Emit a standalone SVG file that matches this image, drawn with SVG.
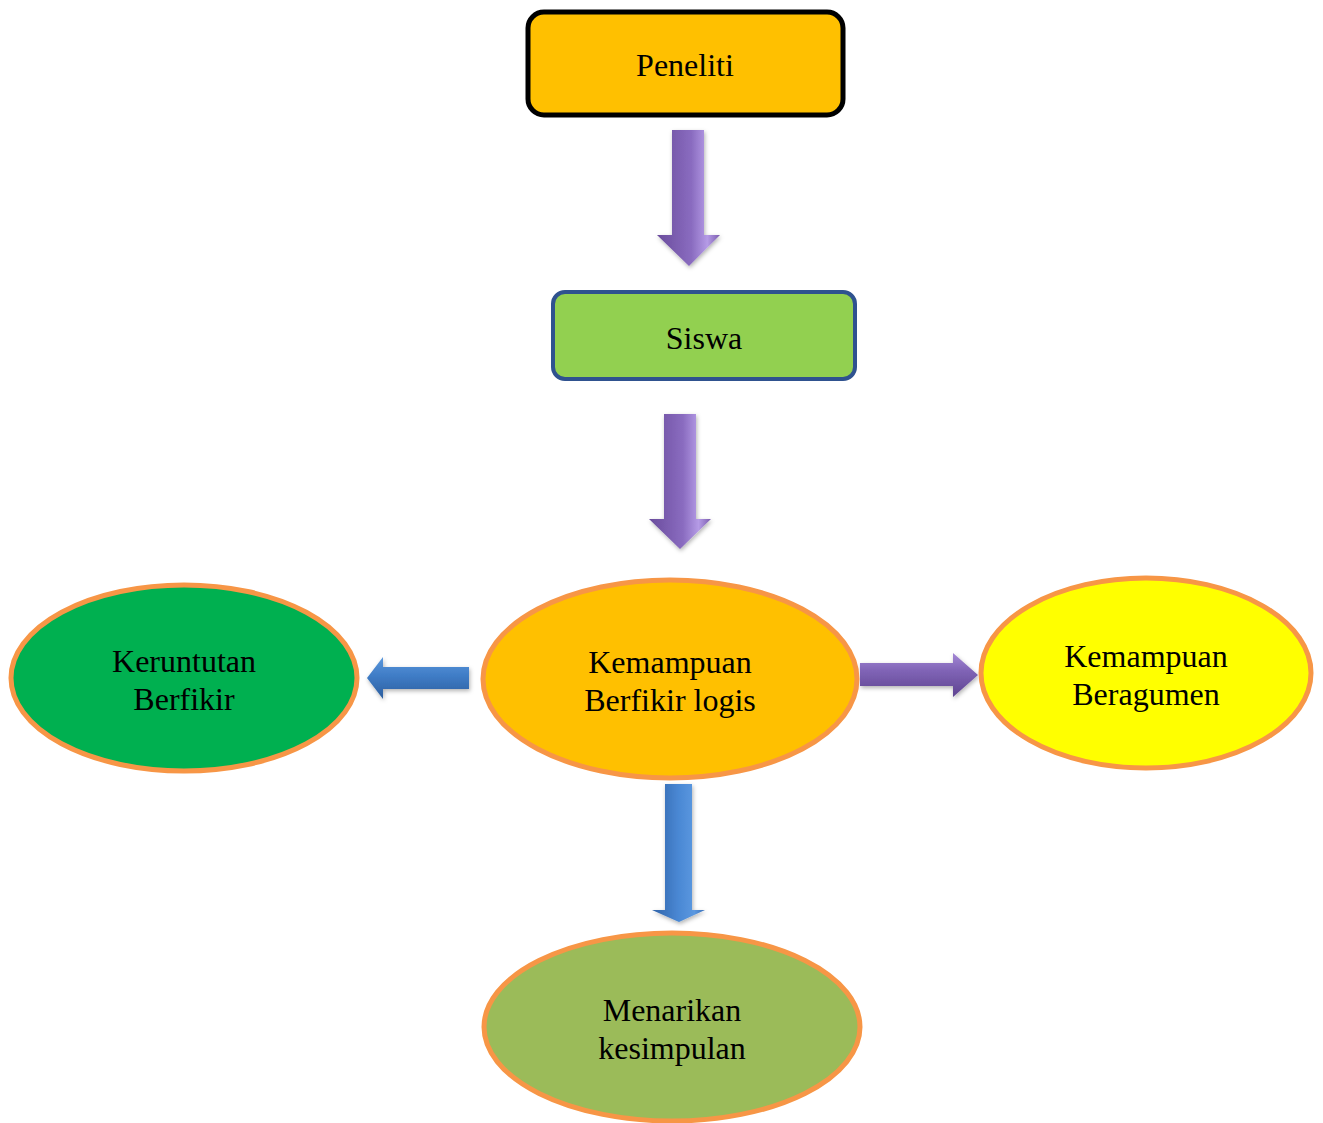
<svg xmlns="http://www.w3.org/2000/svg" width="1323" height="1123" viewBox="0 0 1323 1123">
<defs>
<linearGradient id="pv" x1="0" y1="0" x2="1" y2="0">
<stop offset="0" stop-color="#6a4c9c"/><stop offset="0.55" stop-color="#8a6cc0"/><stop offset="0.8" stop-color="#b59be6"/><stop offset="1" stop-color="#7b5cae"/>
</linearGradient>
<linearGradient id="ph" x1="0" y1="0" x2="0" y2="1">
<stop offset="0" stop-color="#a488d6"/><stop offset="0.4" stop-color="#8064b6"/><stop offset="1" stop-color="#5e4390"/>
</linearGradient>
<linearGradient id="bv" x1="0" y1="0" x2="1" y2="0">
<stop offset="0" stop-color="#2f63a8"/><stop offset="0.5" stop-color="#4a88d4"/><stop offset="0.8" stop-color="#5b98e0"/><stop offset="1" stop-color="#3a70b8"/>
</linearGradient>
<linearGradient id="bh" x1="0" y1="0" x2="0" y2="1">
<stop offset="0" stop-color="#5b98dc"/><stop offset="0.45" stop-color="#3f7cc6"/><stop offset="1" stop-color="#2c5e9e"/>
</linearGradient>
<filter id="sh" x="-20%" y="-20%" width="140%" height="140%">
<feDropShadow dx="1" dy="2" stdDeviation="2" flood-color="#000" flood-opacity="0.3"/>
</filter>
</defs>
<style>
text{font-family:"Liberation Serif","Times New Roman",serif;font-size:32px;fill:#000;text-anchor:middle}
.ell{stroke:#f79646;stroke-width:5}
</style>
<g id="connectors" filter="url(#sh)">
<polygon id="a1" points="672,130 704,130 704,235 720,235 689,266 657,235 672,235" fill="url(#pv)"/>
<polygon id="a2" points="664,414 696,414 696,519 711,519 680,549 649,519 664,519" fill="url(#pv)"/>
<polygon id="a3" points="469,667 469,689 383,689 383,699 367,678 383,657 383,667" fill="url(#bh)"/>
<polygon id="a4" points="860,663 953,663 953,653 978,675 953,697 953,686 860,686" fill="url(#ph)"/>
<polygon id="a5" points="665,784 692,784 692,910 705,910 679,922 652,910 665,910" fill="url(#bv)"/>
</g>
<g id="peneliti">
<rect x="528" y="12" width="315" height="103" rx="16" fill="#ffc000" stroke="#000" stroke-width="5"/>
<text x="685" y="76">Peneliti</text>
</g>
<g id="siswa">
<rect x="553" y="292" width="302" height="87" rx="12" fill="#92d050" stroke="#2f528f" stroke-width="4"/>
<text x="704" y="349">Siswa</text>
</g>
<g id="kemampuan-logis">
<ellipse class="ell" cx="670" cy="679" rx="187" ry="99" fill="#ffc000"/>
<text x="670" y="673">Kemampuan</text>
<text x="670" y="711">Berfikir logis</text>
</g>
<g id="keruntutan">
<ellipse class="ell" cx="184" cy="678" rx="173" ry="93" fill="#00b050"/>
<text x="184" y="672">Keruntutan</text>
<text x="184" y="710">Berfikir</text>
</g>
<g id="beragumen">
<ellipse class="ell" cx="1146" cy="673" rx="165" ry="95" fill="#ffff00"/>
<text x="1146" y="667">Kemampuan</text>
<text x="1146" y="705">Beragumen</text>
</g>
<g id="kesimpulan">
<ellipse class="ell" cx="672" cy="1027" rx="188" ry="94" fill="#9bbb59"/>
<text x="672" y="1021">Menarikan</text>
<text x="672" y="1059">kesimpulan</text>
</g>
</svg>
